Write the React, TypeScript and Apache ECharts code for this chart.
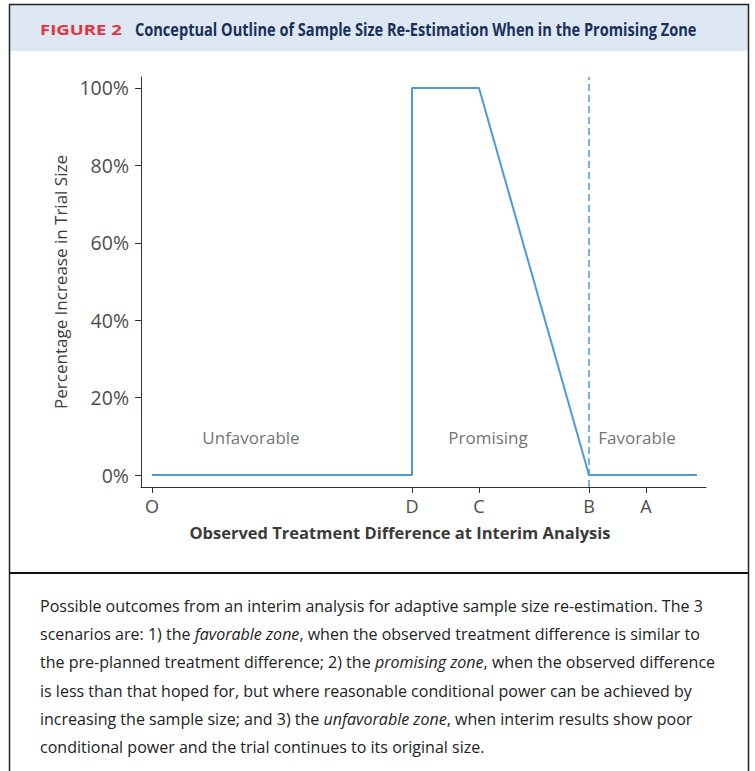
import React, { useEffect, useRef } from "react";
import * as echarts from "echarts";

// ---- data ----
const tickLabels = ["O", "D", "C", "B", "A"];
const tickPositions = [0, 26, 32.7, 43.7, 49.4];
const curveX = [0, 26, 26, 32.7, 43.7, 54.5];
const curveY = [0, 0, 100, 100, 0, 0];
const yTicks = [0, 20, 40, 60, 80, 100];
const zoneNames = ["Unfavorable", "Promising", "Favorable"];
const zoneX = [9.9, 33.6, 48.5];
const zoneY = [9.6, 9.6, 9.6];
const boundaryIndex = 3; // B

const figureLabel = "FIGURE 2";
const figureTitle = "Conceptual Outline of Sample Size Re-Estimation When in the Promising Zone";
const xName = "Observed Treatment Difference at Interim Analysis";
const yName = "Percentage Increase in Trial Size";

const captionLines: [string, string][][] = [
  [["n", "Possible outcomes from an interim analysis for adaptive sample size re-estimation. The 3"]],
  [["n", "scenarios are: 1) the "], ["i", "favorable zone"], ["n", ", when the observed treatment difference is similar to"]],
  [["n", "the pre-planned treatment difference; 2) the "], ["i", "promising zone"], ["n", ", when the observed difference"]],
  [["n", "is less than that hoped for, but where reasonable conditional power can be achieved by"]],
  [["n", "increasing the sample size; and 3) the "], ["i", "unfavorable zone"], ["n", ", when interim results show poor"]],
  [["n", "conditional power and the trial continues to its original size."]],
];

const FONT = "'Open Sans', 'Noto Sans', sans-serif";
const BLUE = "#4a9bdb";

function measure(text: string, font: string): number {
  const c = document.createElement("canvas").getContext("2d");
  if (!c) return text.length * 8;
  c.font = font;
  return c.measureText(text).width;
}

export default function App() {
  const ref = useRef<HTMLDivElement>(null);
  useEffect(() => {
    if (!ref.current) return;
    const chart = echarts.init(ref.current, null, { renderer: "svg" });
    const captionText = captionLines
      .map((line) => line.map(([s, t]) => `{${s}|${t}}`).join(""))
      .join("\n");

    const labelW = measure(figureLabel, "bold 15px 'Open Sans'");
    const labelScale = 82 / labelW;
    const titleW = measure(figureTitle, "bold 18px 'Open Sans'");
    const titleScale = 562 / titleW;
    const capW = measure(captionLines[0][0][1], "17px 'Open Sans'");
    const capScale = 663 / capW;

    const option: any = {
      animation: false,
      grid: { left: 141, right: 49, top: 77, bottom: 284, containLabel: false },
      xAxis: {
        type: "value",
        min: -1.1,
        max: 55.4,
        splitLine: { show: false },
        axisLine: { show: true, onZero: false, lineStyle: { color: "#333", width: 1 } },
        axisTick: { show: true, customValues: tickPositions, length: 6, lineStyle: { color: "#333" } },
        axisLabel: {
          customValues: tickPositions,
          formatter: (v: number) => {
            const i = tickPositions.findIndex((p) => Math.abs(p - v) < 1e-6);
            return i >= 0 ? tickLabels[i] : "";
          },
          margin: 10,
          fontSize: 18,
          color: "#4d4d4d",
          fontFamily: FONT,
        },
        name: xName,
        nameLocation: "middle",
        nameGap: 37,
        nameTextStyle: { fontSize: 16.5, fontWeight: "bold", color: "#3a3a3a", fontFamily: FONT, padding: [0, 47, 0, 0] },
      },
      yAxis: {
        type: "value",
        min: -3.1,
        max: 102.84,
        splitLine: { show: false },
        axisLine: { show: true, onZero: false, lineStyle: { color: "#333", width: 1 } },
        axisTick: { show: true, customValues: yTicks, length: 6, lineStyle: { color: "#333" } },
        axisLabel: {
          customValues: yTicks,
          formatter: (v: number) => `${Math.round(v)}%`,
          margin: 12,
          fontSize: 19.5,
          color: "#4d4d4d",
          fontFamily: FONT,
        },
        name: yName,
        nameLocation: "middle",
        nameGap: 70,
        nameTextStyle: { fontSize: 17, color: "#3a3a3a", fontFamily: FONT },
      },
      series: [
        {
          type: "line",
          data: curveX.map((x, i) => [x, curveY[i]]),
          symbol: "none",
          lineStyle: { color: BLUE, width: 2 },
          markLine: {
            silent: true,
            symbol: ["none", "none"],
            label: { show: false },
            lineStyle: { type: [7, 4], color: BLUE, width: 1.5 },
            data: [{ xAxis: tickPositions[boundaryIndex] }],
          },
        },
        {
          type: "scatter",
          symbolSize: 0,
          data: zoneNames.map((n, i) => ({ name: n, value: [zoneX[i], zoneY[i]] })),
          label: {
            show: true,
            position: "inside",
            formatter: (p: any) => p.name,
            fontSize: 17,
            color: "#4d4d4d",
            fontFamily: FONT,
          },
        },
      ],
      graphic: [
        {
          type: "rect",
          shape: { x: 10, y: 5, width: 738, height: 46 },
          style: { fill: "#dde8f4" },
          silent: true,
        },
        {
          type: "rect",
          shape: { x: 9.5, y: 4.5, width: 739, height: 800 },
          style: { fill: "none", stroke: "#222", lineWidth: 1.5 },
          silent: true,
        },
        {
          type: "line",
          shape: { x1: 9, y1: 573, x2: 749, y2: 573 },
          style: { stroke: "#111", lineWidth: 2 },
          silent: true,
        },
        {
          type: "text",
          x: 40,
          y: 29,
          scaleX: labelScale,
          style: {
            text: figureLabel,
            fontSize: 15,
            fontWeight: "bold",
            fill: "#e8323c",
            fontFamily: "'Open Sans'",
            verticalAlign: "middle",
          },
          silent: true,
        },
        {
          type: "text",
          x: 135,
          y: 29,
          scaleX: titleScale,
          style: {
            text: figureTitle,
            fontSize: 18,
            fontWeight: "bold",
            fill: "#1b2f5b",
            fontFamily: "'Open Sans'",
            verticalAlign: "middle",
          },
          silent: true,
        },
        {
          type: "text",
          x: 40,
          y: 591,
          scaleX: capScale,
          style: {
            text: captionText,
            rich: {
              n: { fontSize: 17, fontFamily: "'Open Sans'", fill: "#222", lineHeight: 28.3 },
              i: { fontSize: 17, fontFamily: "'Open Sans'", fill: "#222", fontStyle: "italic", lineHeight: 28.3 },
            },
          },
          silent: true,
        },
      ],
    };
    chart.setOption(option);
    return () => chart.dispose();
  }, []);
  return (
    <div
      ref={ref}
      style={{ position: "absolute", left: 0, top: 0, width: 755, height: 771, background: "#fff" }}
    />
  );
}
